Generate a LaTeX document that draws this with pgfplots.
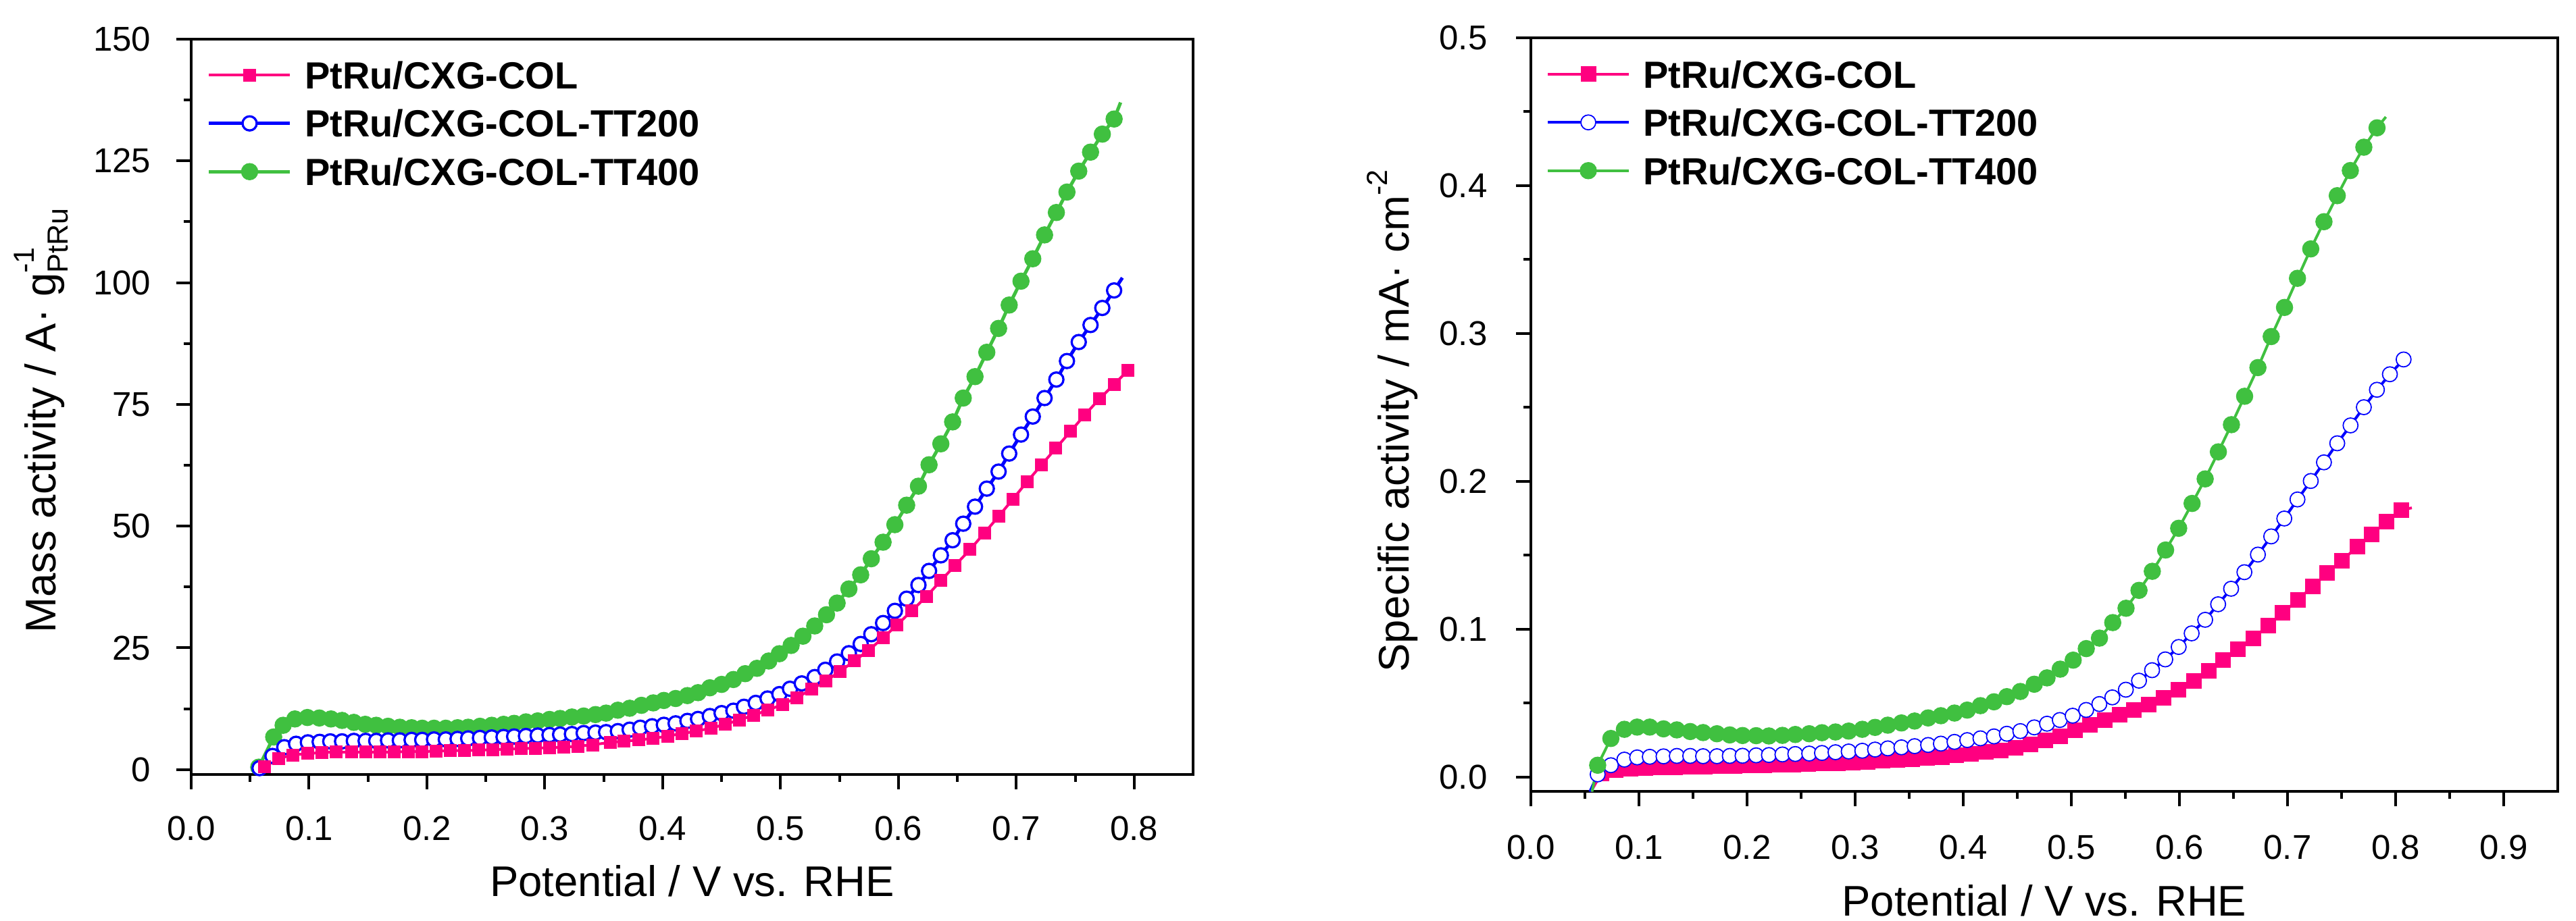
\documentclass[border=0pt]{standalone}
\usepackage{fontspec}
\setmainfont{Liberation Sans}
\usepackage{pgfplots}
\usepackage{pgfplotstable}
\pgfplotsset{compat=1.18}
\definecolor{cpink}{RGB}{255,0,128}
\definecolor{cblue}{RGB}{0,0,255}
\definecolor{cgreen}{RGB}{64,192,64}

\pgfplotstableread{
x y
0.0573 0.5
0.070 6.7
0.078 9.1
0.088 10.4
0.0986 10.7
0.1087 10.6
0.1186 10.4
0.128 10.1
0.138 9.7
0.1477 9.3
0.157 9.1
0.167 8.9
0.177 8.7
0.187 8.6
0.196 8.5
0.206 8.5
0.216 8.5
0.226 8.6
0.235 8.7
0.245 8.9
0.255 9.1
0.265 9.3
0.274 9.5
0.284 9.8
0.294 10.0
0.304 10.3
0.313 10.5
0.323 10.8
0.333 11.0
0.343 11.3
0.352 11.6
0.362 12.2
0.372 12.6
0.382 13.2
0.392 13.7
0.401 14.2
0.411 14.6
0.421 15.2
0.430 15.8
0.440 16.8
0.450 17.5
0.460 18.5
0.470 19.7
0.480 20.8
0.490 22.3
0.499 23.8
0.509 25.5
0.519 27.4
0.529 29.5
0.539 31.8
0.548 34.2
0.558 37.1
0.568 40.0
0.577 43.3
0.587 46.7
0.597 50.3
0.607 54.3
0.617 58.2
0.626 62.6
0.636 66.9
0.646 71.4
0.655 76.3
0.665 80.7
0.675 85.7
0.685 90.6
0.694 95.4
0.704 100.3
0.714 104.9
0.724 109.8
0.734 114.4
0.743 118.6
0.753 122.9
0.763 126.8
0.773 130.5
0.783 133.6
}\LG

\pgfplotstableread{
x y
0.058 0.3
0.069 2.8
0.079 4.6
0.089 5.3
0.099 5.6
0.109 5.7
0.118 5.8
0.128 5.8
0.138 5.9
0.148 5.9
0.157 5.9
0.167 6.0
0.177 6.0
0.187 6.1
0.196 6.1
0.206 6.2
0.216 6.2
0.226 6.3
0.235 6.4
0.245 6.5
0.255 6.6
0.265 6.7
0.274 6.8
0.284 6.9
0.294 7.0
0.304 7.1
0.313 7.2
0.323 7.3
0.333 7.5
0.343 7.6
0.352 7.7
0.362 7.9
0.372 8.2
0.381 8.6
0.391 8.9
0.401 9.2
0.411 9.5
0.421 10.0
0.430 10.4
0.440 11.0
0.450 11.6
0.460 12.1
0.469 12.9
0.479 13.7
0.489 14.6
0.499 15.5
0.508 16.6
0.518 17.7
0.529 19.0
0.538 20.5
0.548 22.2
0.558 23.9
0.568 25.8
0.577 27.8
0.587 30.1
0.597 32.6
0.607 35.1
0.617 37.9
0.626 40.8
0.636 44.0
0.646 47.1
0.655 50.5
0.665 54.0
0.675 57.7
0.685 61.2
0.694 64.9
0.704 68.8
0.714 72.5
0.724 76.3
0.734 80.1
0.743 83.9
0.753 87.8
0.763 91.3
0.773 94.8
0.783 98.4
}\LB

\pgfplotstableread{
x y
0.0623 0.55
0.0743 2.3
0.0861 3.0
0.099 3.3
0.111 3.5
0.123 3.6
0.136 3.6
0.148 3.6
0.160 3.6
0.172 3.6
0.184 3.7
0.196 3.7
0.208 3.8
0.220 3.9
0.232 3.9
0.244 4.0
0.256 4.1
0.268 4.2
0.280 4.3
0.292 4.4
0.304 4.5
0.316 4.6
0.328 4.8
0.341 5.1
0.3556 5.6
0.3673 5.8
0.3797 6.1
0.3918 6.4
0.4044 6.9
0.4165 7.4
0.4285 7.9
0.441 8.5
0.453 9.3
0.4652 10.2
0.4772 11.2
0.4893 12.2
0.5017 13.4
0.514 14.8
0.5264 16.5
0.5385 18.2
0.5506 20.2
0.5626 22.3
0.5747 24.5
0.5872 27.1
0.5988 29.7
0.6113 32.6
0.624 35.6
0.636 38.8
0.648 41.9
0.6608 45.2
0.673 48.6
0.685 52.0
0.697 55.5
0.7091 59.1
0.7215 62.6
0.7336 66.0
0.7462 69.5
0.758 72.8
0.7704 76.1
0.783 79.1
0.7948 82.0
}\LP

\pgfplotstableread{
x y
0.0618 0.0079
0.074 0.026
0.0865 0.0322
0.0983 0.0337
0.110 0.0337
0.1227 0.0325
0.135 0.0318
0.1474 0.0307
0.1593 0.0300
0.1721 0.0292
0.184 0.0284
0.1958 0.0280
0.2084 0.0279
0.2202 0.0277
0.2327 0.0281
0.2446 0.0287
0.2575 0.0292
0.2693 0.0299
0.2818 0.0304
0.294 0.0310
0.3066 0.0322
0.3184 0.0335
0.3302 0.0350
0.3428 0.0365
0.355 0.0378
0.3675 0.0399
0.3793 0.0414
0.3919 0.0432
0.4037 0.0452
0.4159 0.0482
0.4284 0.0508
0.4403 0.0543
0.4528 0.0578
0.4657 0.0627
0.4775 0.0670
0.4897 0.0729
0.5017 0.0790
0.5138 0.0868
0.526 0.0939
0.5383 0.1044
0.5506 0.1141
0.5626 0.1262
0.5749 0.1391
0.5872 0.1535
0.5993 0.1682
0.6117 0.1850
0.6238 0.2016
0.636 0.2199
0.6481 0.2383
0.6603 0.2575
0.6726 0.2769
0.6849 0.2979
0.6972 0.3176
0.7092 0.3373
0.7215 0.3572
0.7337 0.3756
0.746 0.3932
0.7581 0.4102
0.7706 0.4260
0.7828 0.4391
}\RG

\pgfplotstableread{
x y
0.0618 0.0017
0.074 0.0079
0.0865 0.0117
0.0983 0.0132
0.110 0.0136
0.1227 0.0139
0.135 0.0142
0.1474 0.0142
0.1593 0.0140
0.1721 0.0140
0.184 0.0142
0.1958 0.0143
0.2084 0.0146
0.2202 0.0148
0.2327 0.0152
0.2446 0.0155
0.2575 0.0158
0.2693 0.0162
0.2818 0.0167
0.294 0.0172
0.3066 0.0177
0.3184 0.0185
0.3302 0.0193
0.3428 0.0200
0.355 0.0208
0.3675 0.0216
0.3793 0.0225
0.3919 0.0237
0.4037 0.0249
0.4159 0.0261
0.4284 0.0274
0.4403 0.0292
0.4528 0.0310
0.4657 0.0335
0.4775 0.0360
0.4893 0.0385
0.5012 0.0414
0.5137 0.0453
0.5259 0.0493
0.5379 0.0538
0.5504 0.0590
0.5626 0.0651
0.5747 0.0722
0.5869 0.0795
0.5993 0.0879
0.6113 0.0971
0.6238 0.1063
0.6358 0.1168
0.6478 0.1273
0.6601 0.1385
0.6726 0.1504
0.6849 0.1627
0.697 0.1748
0.7092 0.1877
0.7215 0.2002
0.7337 0.2128
0.746 0.2257
0.7583 0.2378
0.7706 0.2501
0.7827 0.2619
0.7947 0.2724
0.8074 0.2824
}\RB

\pgfplotstableread{
x y
0.065 0.0022
0.0787 0.0046
0.0924 0.0057
0.1061 0.0062
0.1198 0.0064
0.1335 0.0066
0.1472 0.0068
0.1609 0.0070
0.1746 0.0072
0.1883 0.0074
0.2020 0.0076
0.2157 0.0078
0.2294 0.0081
0.2431 0.0084
0.2568 0.0087
0.2705 0.0090
0.2842 0.0094
0.2979 0.0098
0.3116 0.0103
0.3253 0.0108
0.3390 0.0113
0.3526 0.0119
0.3663 0.0127
0.3800 0.0135
0.3937 0.0145
0.4074 0.0156
0.4211 0.0168
0.4348 0.0180
0.4485 0.0197
0.4622 0.0218
0.4760 0.0245
0.4896 0.0275
0.5033 0.0315
0.5170 0.0350
0.5307 0.0385
0.5444 0.0420
0.5580 0.0452
0.5718 0.0487
0.5856 0.0533
0.5993 0.0590
0.6132 0.0651
0.6270 0.0716
0.6404 0.0790
0.6540 0.0866
0.6683 0.0939
0.6820 0.1023
0.6956 0.1110
0.7094 0.1197
0.7232 0.1289
0.7368 0.1378
0.7504 0.1464
0.7644 0.1556
0.7780 0.1640
0.7916 0.1727
0.8052 0.1806
}\RP

\pgfplotsset{
  common/.style={
    scale only axis,
    axis line style={line width=0.8pt},
    tick style={line width=0.8pt, black},
    tick align=outside,
    tick pos=left,
    major tick length=4.4pt,
    minor tick length=2.2pt,
    minor x tick num=1,
    minor y tick num=1,
    ticklabel style={font=\fontsize{10.2}{12}\selectfont},
    /pgf/number format/assume math mode=true,
    x tick label style={/pgf/number format/.cd, fixed, fixed zerofill, precision=1, /tikz/.cd},
    xlabel style={font=\fontsize{12.7}{15}\selectfont, at={(axis description cs:0.5,0)}, anchor=north, inner sep=0pt},
    ylabel style={font=\fontsize{12.7}{15}\selectfont, anchor=base, inner sep=0pt},
    legend cell align=left,
    legend image code/.code={\draw[mark repeat=2,mark phase=2,##1] plot coordinates {(0pt,0pt) (12pt,0pt) (24pt,0pt)};},
    legend style={draw=none, fill=none, at={(0,1)}, anchor=north west,
      inner sep=0pt, outer sep=0pt, row sep=6.2pt, column sep=3.8pt,
      font=\bfseries\fontsize{11.2}{13}\selectfont,
      nodes={inner sep=0pt, text height=8.1pt, text depth=0pt}},
  },
}

\newcommand{\supsub}[2]{\makebox[0pt][l]{\raisebox{0.95ex}{\fontsize{8.6}{10}\selectfont #1}}\raisebox{-0.55ex}{\fontsize{8.6}{10}\selectfont #2}}

\begin{document}
\begin{tikzpicture}
\useasboundingbox (0,0) rectangle (762.6pt,272.8pt);

\begin{axis}[common,
  at={(56.6pt,43.4pt)}, anchor=south west,
  width=296.6pt, height=217.8pt,
  xmin=0, xmax=0.85, ymin=-1, ymax=150,
  xtick={0,0.1,0.2,0.3,0.4,0.5,0.6,0.7,0.8},
  ytick={0,25,50,75,100,125,150},
  x tick label style={yshift=-4.4pt},
  y tick label style={xshift=-4pt},
  xlabel={Potential / V vs. RHE},
  xlabel style={yshift=-26.7pt},
  ylabel={Mass activity / A· g\supsub{-1}{PtRu}},
  ylabel style={at={(axis description cs:-0.1355,0.481)}},
  reverse legend,
  legend style={xshift=4.8pt, yshift=-6.6pt},
]
\addplot[cgreen, line width=1pt, forget plot] coordinates {(0.0565,-1) (0.0573,0.5)};
\addplot[cgreen, line width=1pt, forget plot] coordinates {(0.783,133.6) (0.7885,137)};
\addplot[cgreen, line width=1pt, mark=*, mark size=2.45pt, mark options={fill=cgreen, draw=cgreen, line width=0.2pt}] table {\LG};
\addlegendentry{PtRu/CXG-COL-TT400}
\addplot[cblue, line width=1pt, forget plot] coordinates {(0.0572,-1) (0.058,0.3)};
\addplot[cblue, line width=1pt, forget plot] coordinates {(0.783,98.4) (0.790,101)};
\addplot[cblue, line width=1pt, mark=*, mark size=2.1pt, mark options={fill=white, draw=cblue, line width=0.66pt}] table {\LB};
\addlegendentry{PtRu/CXG-COL-TT200}
\addplot[cpink, line width=0.8pt, forget plot] coordinates {(0.0595,-1) (0.0623,0.55)};
\addplot[cpink, line width=0.8pt, forget plot] coordinates {(0.7948,82.0) (0.7975,83)};
\addplot[cpink, line width=0.8pt, mark=square*, mark size=1.8pt, mark options={fill=cpink, draw=cpink, line width=0.2pt}] table {\LP};
\addlegendentry{PtRu/CXG-COL}
\end{axis}

\begin{axis}[common,
  at={(453.2pt,38.3pt)}, anchor=south west,
  width=304pt, height=223.3pt,
  xmin=0, xmax=0.95, ymin=-0.01, ymax=0.5,
  xtick={0,0.1,0.2,0.3,0.4,0.5,0.6,0.7,0.8,0.9},
  ytick={0,0.1,0.2,0.3,0.4,0.5},
  y tick label style={/pgf/number format/.cd, fixed, fixed zerofill, precision=1, /tikz/.cd, xshift=-5pt},
  x tick label style={yshift=-5pt},
  xlabel={Potential / V vs. RHE},
  xlabel style={yshift=-27.3pt},
  ylabel={Specific activity / mA· cm\raisebox{0.95ex}{\fontsize{8.6}{10}\selectfont -2}},
  ylabel style={at={(axis description cs:-0.119,0.4917)}},
  legend style={xshift=4.6pt, yshift=-6.7pt},
]
\addplot[cpink, line width=0.8pt, forget plot] coordinates {(0.0555,-0.01) (0.065,0.0022)};
\addplot[cpink, line width=0.8pt, forget plot] coordinates {(0.8052,0.1806) (0.815,0.182)};
\addplot[cpink, line width=0.8pt, mark=square*, mark size=2.2pt, mark options={fill=cpink, draw=cpink, line width=0.2pt}] table {\RP};
\addlegendentry{PtRu/CXG-COL}
\addplot[cblue, line width=0.8pt, forget plot] coordinates {(0.0545,-0.01) (0.0618,0.0017)};
\addplot[cblue, line width=0.8pt, forget plot] coordinates {(0.8074,0.2824) (0.810,0.284)};
\addplot[cblue, line width=0.8pt, mark=*, mark size=2.2pt, mark options={fill=white, draw=cblue, line width=0.35pt}] table {\RB};
\addlegendentry{PtRu/CXG-COL-TT200}
\addplot[cgreen, line width=0.8pt, forget plot] coordinates {(0.0565,-0.01) (0.0618,0.0079)};
\addplot[cgreen, line width=0.8pt, forget plot] coordinates {(0.7828,0.4391) (0.791,0.4465)};
\addplot[cgreen, line width=0.8pt, mark=*, mark size=2.45pt, mark options={fill=cgreen, draw=cgreen, line width=0.2pt}] table {\RG};
\addlegendentry{PtRu/CXG-COL-TT400}
\end{axis}
\end{tikzpicture}
\end{document}
